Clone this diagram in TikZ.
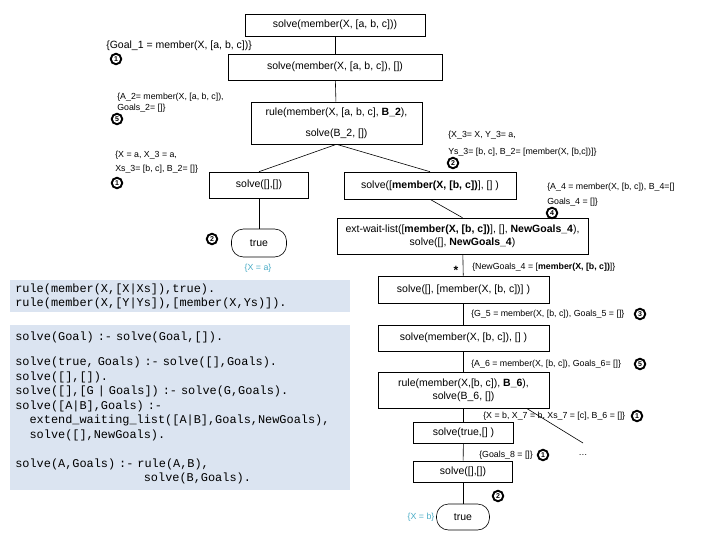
\documentclass[tikz,border=0pt]{standalone}
\usepackage{fontspec}
\setmainfont{Liberation Sans}
\newfontfamily\codefont{Liberation Mono}
\usepackage{tikz}
\definecolor{codebg}{RGB}{219,228,241}
\definecolor{bindcol}{RGB}{75,172,198}
\newcommand{\boxfont}{\fontsize{10.5}{13}\selectfont}
\newcommand{\notefont}{\fontsize{8.8}{11}\selectfont}
\newcommand{\chars}[1]{\hspace*{#1\fontcharwd\font`x}}

\begin{document}
\begin{tikzpicture}[x=1pt,y=-1pt,line width=0.6pt,
  goal/.style={draw,align=center,font=\boxfont,inner sep=1pt},
  leaf/.style={goal,rounded corners=12pt},
  note/.style={anchor=west,align=left,font=\notefont,inner sep=0pt},
  clause/.style={circle,draw,line width=1.9pt,inner sep=0pt,minimum size=10.5pt,font=\bfseries\fontsize{7}{7}\selectfont},
  bind/.style={text=bindcol,font=\notefont,inner sep=0pt},
  prog/.style={fill=codebg,anchor=north west,text width=330pt,inner xsep=5pt,inner ysep=0pt,align=left,font=\codefont\fontsize{11.9}{14.5}\selectfont}]
\useasboundingbox (0,0) rectangle (720,540);

% program
\node[prog,minimum height=32pt] (p1) at (10,280) {rule(member(X,[X|Xs]),true).\\
rule(member(X,[Y|Ys]),[member(X,Ys)]).};
\node[prog,minimum height=165pt] (p2) at (10,325) {solve(Goal) :- solve(Goal,[]).\\[10.8pt]
solve(true, Goals) :- solve([],Goals).\\
solve([],[]).\\
solve([],[G | Goals]) :- solve(G,Goals).\\
solve([A|B],Goals) :-\\
\chars{2}extend\_waiting\_list([A|B],Goals,NewGoals),\\
\chars{2}solve([],NewGoals).\\[14.5pt]
solve(A,Goals) :- rule(A,B),\\
\chars{18}solve(B,Goals).};

% derivation tree
\node[goal,minimum width=180pt,minimum height=22pt] (s1) at (335,25) {solve(member(X, [a, b, c]))};
\node[goal,minimum width=214pt,minimum height=26pt] (s2) at (335,67) {solve(member(X, [a, b, c]), [])};
\node[goal,minimum width=171pt,minimum height=42pt] (s3) at (336.5,123) {rule(member(X, [a, b, c], \textbf{B\_2}),\\[8pt] solve(B\_2, [])};
\node[goal,minimum width=99pt,minimum height=26pt] (s4) at (259,185) {solve([],[])};
\node[leaf,minimum width=55pt,minimum height=28pt] (s5) at (259,243) {true};
\node[goal,minimum width=172pt,minimum height=27pt] (s6) at (430,185.5) {solve([\textbf{member(X, [b, c])}], [] )};
\node[goal,minimum width=251pt,minimum height=36pt] (s7) at (462.5,236) {ext-wait-list([\textbf{member(X, [b, c])}], [], \textbf{NewGoals\_4}),\\ solve([], \textbf{NewGoals\_4})};
\node[goal,minimum width=171pt,minimum height=27pt] (s8) at (463.5,289.5) {solve([], [member(X, [b, c])] )};
\node[goal,minimum width=171pt,minimum height=26pt] (s9) at (463.5,338) {solve(member(X, [b, c]), [] )};
\node[goal,minimum width=171pt,minimum height=36pt] (s10) at (463.5,390) {rule(member(X,[b, c]), \textbf{B\_6}),\\ solve(B\_6, [])};
\node[goal,minimum width=100pt,minimum height=21pt] (s11) at (463.5,432.5) {solve(true,[] )};
\node[goal,minimum width=99pt,minimum height=21pt] (s12) at (463,471.5) {solve([],[])};
\node[leaf,minimum width=53pt,minimum height=26pt] (s13) at (463,517) {true};

% unifiers
\node[note,font=\boxfont] (l1) at (106,46) {\{Goal\_1 = member(X, [a, b, c])\}};
\node[note] (l2) at (117,102.5) {\{A\_2= member(X, [a, b, c]),\\ Goals\_2= []\}};
\node[note,font=\fontsize{8.8}{14}\selectfont] (l3) at (115,162) {\{X = a, X\_3 = a,\\ Xs\_3= [b, c], B\_2= []\}};
\node[note,font=\fontsize{8.8}{16.5}\selectfont] (l4) at (448,143.5) {\{X\_3= X, Y\_3= a,\\ Ys\_3= [b, c], B\_2= [member(X, [b,c])]\}};
\node[note,font=\fontsize{8.8}{15}\selectfont] (l5) at (547,194.5) {\{A\_4 = member(X, [b, c]), B\_4=[]\\ Goals\_4 = []\}};
\node[note] (l6) at (472,267) {\{NewGoals\_4 = [\textbf{member(X, [b, c])}]\}};
\node[note] (l7) at (471,314) {\{G\_5 = member(X, [b, c]), Goals\_5 = []\}};
\node[note] (l8) at (471,364) {\{A\_6 = member(X, [b, c]), Goals\_6= []\}};
\node[note] (l9) at (483,416) {\{X = b, X\_7 = b, Xs\_7 = [c], B\_6 = []\}};
\node[note] (l10) at (479,455) {\{Goals\_8 = []\}};
\node[font=\bfseries\fontsize{12}{12}\selectfont,inner sep=0pt] (st) at (456,270) {*};
\node[font=\notefont,inner sep=0pt] (dots) at (583,455) {\ldots};
\coordinate (e1) at (583,443);
\node[bind] (a1) at (258,268) {\{X = a\}};
\node[bind] (a2) at (421,517) {\{X = b\}};

% clause numbers
\node[clause] (c1) at (116,59) {1};
\node[clause] (c2) at (117,119) {5};
\node[clause] (c3) at (117,183) {1};
\node[clause] (c4) at (212,239) {2};
\node[clause] (c5) at (453,163) {2};
\node[clause] (c6) at (552,213) {4};
\node[clause] (c7) at (640,314) {3};
\node[clause] (c8) at (640,364) {5};
\node[clause] (c9) at (637,416) {1};
\node[clause] (c10) at (543,455) {1};
\node[clause] (c11) at (498,496) {2};

% edges
\draw (s1) -- (s2);
\draw (s2) -- (s3);
\draw (s3.south) -- (s4.north);
\draw (s4) -- (s5);
\draw (s3.south) -- (s6.north);
\draw (s6.south) -- (s7.north);
\draw (s7) -- (s8);
\draw (s8) -- (s9);
\draw (s9) -- (s10);
\draw (s10) -- (s11);
\draw ([xshift=63pt]s10.south) -- (e1);
\draw (s11) -- (s12);
\draw (s12) -- (s13);
\end{tikzpicture}
\end{document}
